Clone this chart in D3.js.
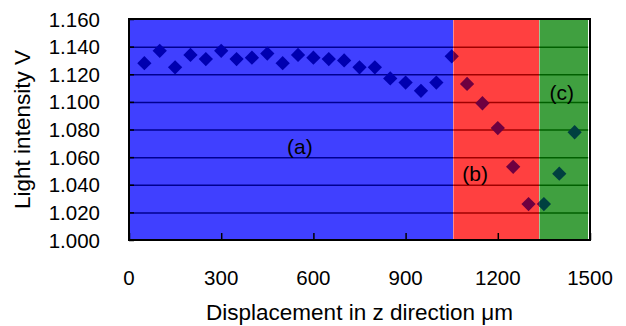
<!DOCTYPE html>
<html>
<head>
<meta charset="utf-8">
<script src="https://cdn.jsdelivr.net/npm/d3@7"></script>
<style>
  body { margin: 0; background: #fff; }
  text { font-family: "Liberation Sans", Arial, sans-serif; fill: #000; }
</style>
</head>
<body>
<div id="chart"></div>
<script>
  // displacement (um) and light intensity (V)
  var displacement = [50, 100, 150, 200, 250, 300, 350, 400, 450, 500, 550, 600, 650, 700,
    750, 800, 850, 900, 950, 1000, 1050, 1100, 1150, 1200, 1250, 1300, 1350, 1400, 1450];
  var intensity = [1.128, 1.137, 1.125, 1.134, 1.131, 1.137, 1.131, 1.132, 1.135, 1.128,
    1.134, 1.132, 1.131, 1.130, 1.125, 1.125, 1.117, 1.114, 1.108, 1.114, 1.133,
    1.113, 1.099, 1.081, 1.053, 1.026, 1.026, 1.048, 1.078];
  var xTicks = [0, 300, 600, 900, 1200, 1500];
  var yTicks = [1.000, 1.020, 1.040, 1.060, 1.080, 1.100, 1.120, 1.140, 1.160];
  var zoneNames = ['(a)', '(b)', '(c)'];
  var zoneStart = [0, 1055, 1335];
  var zoneEnd = [1055, 1335, 1494];
  var zoneLabelX = [556, 1126, 1408];
  var zoneLabelY = [1.068, 1.0485, 1.107];

  (function() {
    var zoneFill = ['#4040ff', '#ff4040', '#40a040'];
    var zoneGrid = ['#000090', '#a00000', '#006000'];
    var zoneMarker = ['#0000b0', '#6e0040', '#004040'];

    var width = 626, height = 326;
    var plotLeft = 129, plotRight = 590, plotTop = 19, plotBottom = 240;

    var xScale = d3.scaleLinear().domain([0, 1500]).range([plotLeft, plotRight]);
    var yScale = d3.scaleLinear().domain([1.0, 1.16]).range([plotBottom, plotTop]);

    var svg = d3.select('#chart').append('svg')
      .attr('width', width)
      .attr('height', height);

    var defs = svg.append('defs');
    var zones = d3.range(zoneNames.length);

    zones.forEach(function(i) {
      defs.append('clipPath')
        .attr('id', 'zone-clip-' + i)
        .append('rect')
        .attr('x', xScale(zoneStart[i]))
        .attr('y', plotTop)
        .attr('width', xScale(zoneEnd[i]) - xScale(zoneStart[i]))
        .attr('height', plotBottom - plotTop);
    });

    var points = displacement.map(function(d, i) { return { x: d, y: intensity[i] }; });
    var diamond = d3.symbol().type(d3.symbolDiamond2).size(130);

    // each zone gets its own background, gridlines and marker tint
    zones.forEach(function(i) {
      var g = svg.append('g').attr('clip-path', 'url(#zone-clip-' + i + ')');

      g.append('rect')
        .attr('x', xScale(zoneStart[i]))
        .attr('y', plotTop)
        .attr('width', xScale(zoneEnd[i]) - xScale(zoneStart[i]))
        .attr('height', plotBottom - plotTop)
        .attr('fill', zoneFill[i]);

      g.selectAll('.grid')
        .data(yTicks.slice(1, -1))
        .enter().append('line')
        .attr('x1', plotLeft)
        .attr('x2', plotRight)
        .attr('y1', function(d) { return yScale(d) + 0.5; })
        .attr('y2', function(d) { return yScale(d) + 0.5; })
        .attr('stroke', zoneGrid[i])
        .attr('stroke-width', 1.5);

      g.selectAll('.dot')
        .data(points)
        .enter().append('path')
        .attr('d', diamond)
        .attr('transform', function(d) {
          return 'translate(' + xScale(d.x) + ',' + yScale(d.y) + ')';
        })
        .attr('fill', zoneMarker[i]);
    });

    svg.selectAll('.zone-label')
      .data(zones)
      .enter().append('text')
      .attr('x', function(i) { return xScale(zoneLabelX[i]); })
      .attr('y', function(i) { return yScale(zoneLabelY[i]); })
      .attr('text-anchor', 'middle')
      .attr('dominant-baseline', 'central')
      .style('font-size', '21px')
      .text(function(i) { return zoneNames[i]; });

    // axes with inward ticks
    var xAxis = d3.axisBottom(xScale).tickValues(xTicks).tickSize(-7).tickFormat('');
    svg.append('g')
      .attr('transform', 'translate(0,' + plotBottom + ')')
      .call(xAxis)
      .call(function(g) {
        g.select('.domain').remove();
        g.selectAll('line').attr('stroke', '#000').attr('stroke-width', 1.5);
      });

    var yAxis = d3.axisLeft(yScale).tickValues(yTicks).tickSize(-5).tickFormat('');
    svg.append('g')
      .attr('transform', 'translate(' + plotLeft + ',0)')
      .call(yAxis)
      .call(function(g) {
        g.select('.domain').remove();
        g.selectAll('line').attr('stroke', '#000').attr('stroke-width', 1.5);
      });

    svg.append('rect')
      .attr('x', plotLeft)
      .attr('y', plotTop)
      .attr('width', plotRight - plotLeft)
      .attr('height', plotBottom - plotTop)
      .attr('fill', 'none')
      .attr('stroke', '#000')
      .attr('stroke-width', 2);

    svg.selectAll('.ylab')
      .data(yTicks)
      .enter().append('text')
      .attr('x', 100)
      .attr('y', function(d) { return yScale(d); })
      .attr('text-anchor', 'end')
      .attr('dominant-baseline', 'central')
      .style('font-size', '20.5px')
      .text(d3.format('.3f'));

    svg.selectAll('.xlab')
      .data(xTicks)
      .enter().append('text')
      .attr('x', function(d) { return xScale(d); })
      .attr('y', 277)
      .attr('text-anchor', 'middle')
      .attr('dominant-baseline', 'central')
      .style('font-size', '20.5px')
      .text(function(d) { return d; });

    svg.append('text')
      .attr('x', (plotLeft + plotRight) / 2)
      .attr('y', 312)
      .attr('text-anchor', 'middle')
      .attr('dominant-baseline', 'central')
      .style('font-size', '22.5px')
      .text('Displacement in z direction \u03bcm');

    svg.append('text')
      .attr('transform', 'translate(22,' + (plotTop + plotBottom) / 2 + ') rotate(-90)')
      .attr('text-anchor', 'middle')
      .attr('dominant-baseline', 'central')
      .style('font-size', '22.5px')
      .text('Light intensity V');
  })();
</script>
</body>
</html>
